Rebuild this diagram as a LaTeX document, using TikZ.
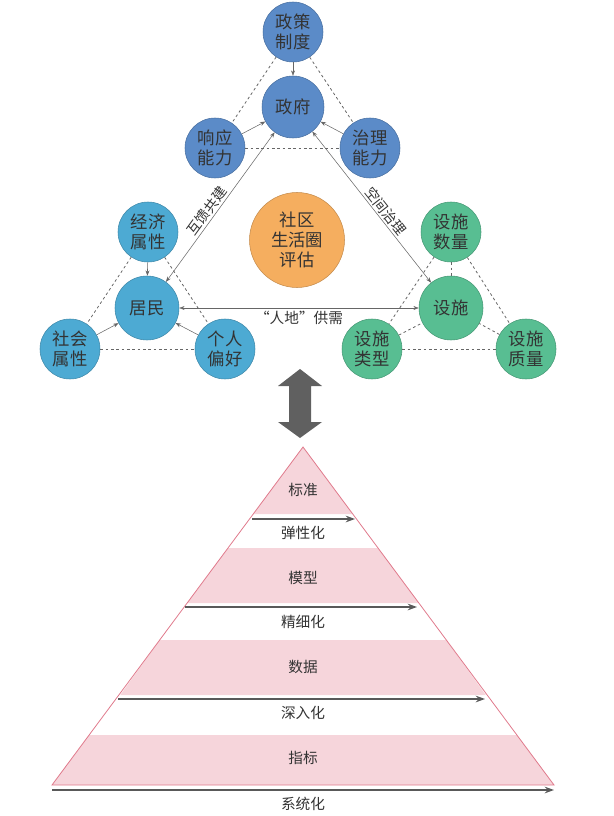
\documentclass[tikz,border=0pt]{standalone}
\usepackage{fontspec}
\setmainfont{Noto Sans CJK SC}
\usetikzlibrary{arrows.meta}
\definecolor{cblue}{HTML}{5B8BC8}
\definecolor{clblue}{HTML}{4DAAD3}
\definecolor{cgreen}{HTML}{58BE92}
\definecolor{corange}{HTML}{F5AE5F}
\definecolor{cpink}{HTML}{F6D5DB}
\definecolor{cred}{HTML}{E07A8C}
\definecolor{ctext}{HTML}{333333}
\tikzset{
 circ/.style={circle,draw=#1!80!black,fill=#1,line width=0.4pt,minimum size=60*0.75pt,inner sep=0pt,align=center,text=ctext,font=\fontsize{13}{15}\selectfont},
 arr/.style={-{Stealth[length=4pt,width=3pt]},draw=gray!80!black,line width=0.4pt},
 dline/.style={dash pattern=on 2pt off 2pt,draw=gray!80!black,line width=0.6pt},
 band/.style={fill=cpink,draw=none},
 parr/.style={-{Stealth[length=7pt,width=5pt]},draw=gray!70!black,line width=1.1pt},
 lab/.style={text=ctext,font=\fontsize{11}{12}\selectfont},
 slab/.style={text=ctext,font=\fontsize{10.5}{12}\selectfont,inner sep=1.5pt}
}
\begin{document}
\begin{tikzpicture}[x=0.75pt,y=-0.75pt]
\useasboundingbox (0,0) rectangle (613,816);
% top
\node[circ=cblue] (pol) at (293,32) {政策\\制度};
\node[circ=cblue,minimum size=62*0.75pt] (gov) at (293,107) {政府};
\node[circ=cblue] (resp) at (215,148) {响应\\能力};
\node[circ=cblue] (gvn) at (370,148) {治理\\能力};
% left
\node[circ=clblue] (eco) at (148,232) {经济\\属性};
\node[circ=clblue,minimum size=64*0.75pt] (res) at (147,308) {居民};
\node[circ=clblue] (soc) at (70,349) {社会\\属性};
\node[circ=clblue] (per) at (225,349) {个人\\偏好};
% right
\node[circ=cgreen] (num) at (451,232) {设施\\数量};
\node[circ=cgreen,minimum size=64*0.75pt] (fac) at (451,308) {设施};
\node[circ=cgreen] (typ) at (372,349) {设施\\类型};
\node[circ=cgreen] (qua) at (526,349) {设施\\质量};
% center
\node[circ=corange,minimum size=95*0.75pt] (ctr) at (297,240) {社区\\生活圈\\评估};
% arrows
\draw[arr] (pol) -- (gov);
\draw[arr] (resp) -- (gov);
\draw[arr] (gvn) -- (gov);
\draw[dline] (pol) -- (resp);
\draw[dline] (pol) -- (gvn);
\draw[dline] (resp) -- (gvn);
\draw[arr] (eco) -- (res);
\draw[arr] (soc) -- (res);
\draw[arr] (per) -- (res);
\draw[dline] (eco) -- (soc);
\draw[dline] (eco) -- (per);
\draw[dline] (soc) -- (per);
\draw[dline] (num) -- (fac);
\draw[dline] (num) -- (typ);
\draw[dline] (num) -- (qua);
\draw[dline] (typ) -- (fac);
\draw[dline] (qua) -- (fac);
\draw[dline] (typ) -- (qua);
\draw[arr,{Stealth[length=4pt,width=3pt]}-{Stealth[length=4pt,width=3pt]}] (gov) -- (res) node[sloped,above,slab,pos=0.56] {互馈共建};
\draw[arr,{Stealth[length=4pt,width=3pt]}-{Stealth[length=4pt,width=3pt]}] (gov) -- (fac) node[sloped,above,slab,pos=0.56] {空间治理};
\draw[arr,{Stealth[length=4pt,width=3pt]}-{Stealth[length=4pt,width=3pt]}] (res) -- (fac) node[midway,below,lab,yshift=1pt] {“人地”供需};
% big double arrow
\fill[gray!75!black] (300,369) -- (322,386) -- (311,386) -- (311,422) -- (322,422) -- (300,438) -- (278,422) -- (289,422) -- (289,386) -- (278,386) -- cycle;
% pyramid
\fill[band] (303,447) -- (253.2,514) -- (352.8,514) -- cycle;
\fill[band] (228,548) -- (378,548) -- (418.8,603) -- (187.2,603) -- cycle;
\fill[band] (159.7,640) -- (446.3,640) -- (485.7,695) -- (120.3,695) -- cycle;
\fill[band] (89.1,735) -- (516.9,735) -- (554,785) -- (52,785) -- cycle;
\draw[cred,line width=0.6pt] (303,447) -- (52,785) -- (554,785) -- cycle;
\node[lab] (l1) at (303,490) {标准};
\node[lab] (l2) at (303,578) {模型};
\node[lab] (l3) at (303,667) {数据};
\node[lab] (l4) at (303,758) {指标};
\coordinate (a1s) at (252,519); \coordinate (a1e) at (355,519);
\coordinate (a2s) at (185,607); \coordinate (a2e) at (417,607);
\coordinate (a3s) at (118,699); \coordinate (a3e) at (485,699);
\coordinate (a4s) at (52,790); \coordinate (a4e) at (554,790);
\draw[parr] (a1s) -- (a1e);
\draw[parr] (a2s) -- (a2e);
\draw[parr] (a3s) -- (a3e);
\draw[parr] (a4s) -- (a4e);
\node[lab] (t1) at (303,533) {弹性化};
\node[lab] (t2) at (303,622) {精细化};
\node[lab] (t3) at (303,713) {深入化};
\node[lab] (t4) at (303,804) {系统化};
\end{tikzpicture}
\end{document}
